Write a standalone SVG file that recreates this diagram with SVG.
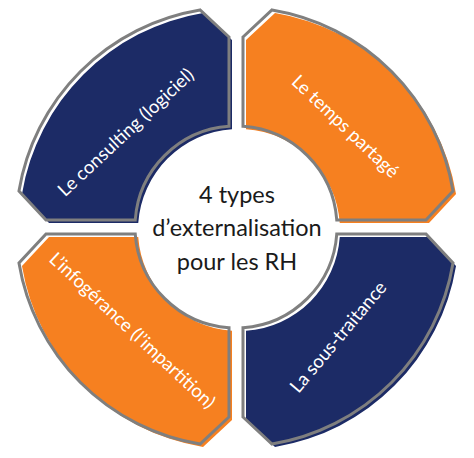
<svg xmlns="http://www.w3.org/2000/svg" xmlns:xlink="http://www.w3.org/1999/xlink" width="474" height="458" viewBox="0 0 474 458">
  <style>
    .outline { fill: none; stroke: #7f7f7f; stroke-width: 3; stroke-linejoin: miter; }
    .navy { fill: #1c2b66; }
    .orange { fill: #f68020; }
    .label { font-family: Lato, "Liberation Sans", sans-serif; font-size: 18.5px; fill: #ffffff; text-anchor: middle; }
    .center { font-family: Lato, "Liberation Sans", sans-serif; font-size: 23.5px; fill: #1a1a1a; text-anchor: middle; }
  </style>
  <defs>
    <path id="seg" d="M -7 -190 L -36 -217.03 A 220 220 0 0 0 -217.03 -36 L -190 -7 L -100.76 -7 A 101 101 0 0 1 -7 -100.76 Z"/>
  </defs>
  <rect width="474" height="458" fill="#ffffff"/>

  <g id="seg-consulting">
    <use xlink:href="#seg" class="navy" transform="translate(239,230)"/>
    <use xlink:href="#seg" class="outline" transform="translate(236,227)"/>
    <text class="label" transform="translate(130,137) rotate(-43)">Le consulting (logiciel)</text>
  </g>

  <g id="seg-temps">
    <use xlink:href="#seg" class="orange" transform="translate(239,230) scale(-1,1)"/>
    <use xlink:href="#seg" class="outline" transform="translate(236,227) scale(-1,1)"/>
    <text class="label" transform="translate(341,131) rotate(43.5)">Le temps partagé</text>
  </g>

  <g id="seg-infogerance">
    <use xlink:href="#seg" class="orange" transform="translate(239,230) scale(1,-1)"/>
    <use xlink:href="#seg" class="outline" transform="translate(236,227) scale(1,-1)"/>
    <text class="label" transform="translate(128,335) rotate(43)">L’infogérance (l’impartition)</text>
  </g>

  <g id="seg-soustraitance">
    <use xlink:href="#seg" class="navy" transform="translate(239,230) scale(-1,-1)"/>
    <use xlink:href="#seg" class="outline" transform="translate(236,227) scale(-1,-1)"/>
    <text class="label" transform="translate(343,341) rotate(-50)">La sous-traitance</text>
  </g>

  <g id="center">
    <text class="center" x="237" y="203">4 types</text>
    <text class="center" x="237" y="236">d’externalisation</text>
    <text class="center" x="237" y="270">pour les RH</text>
  </g>
</svg>
